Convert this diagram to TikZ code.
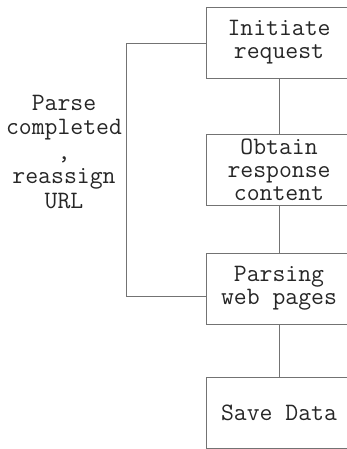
\documentclass[tikz,border=0pt]{standalone}
\begin{document}
\begin{tikzpicture}[x=1pt,y=1pt,
  box/.style={draw=black!55, line width=0.9pt, minimum width=146pt, minimum height=71pt, inner sep=0pt, align=center, font=\ttfamily\fontsize{25}{23}\selectfont, text=black!85},
  link/.style={draw=black!55, line width=0.9pt},
  lbl/.style={align=center, font=\ttfamily\fontsize{25}{24.5}\selectfont, text=black!85}]
\useasboundingbox (0,0) rectangle (346,-449);
\node[box] (b1) at (279,-42.5) {Initiate\\request};
\node[box] (b2) at (279,-170) {Obtain\\response\\content};
\node[box] (b3) at (279,-288.5) {Parsing\\web pages};
\node[box] (b4) at (279,-412.5) {Save Data};
\node[lbl] (t) at (64,-152) {Parse\\completed\\,\\reassign\\URL};
\coordinate (c1) at (126,-43);
\coordinate (c2) at (126,-296);
\draw[link] (b1) -- (b2);
\draw[link] (b2) -- (b3);
\draw[link] (b3) -- (b4);
\draw[link] (b1.west |- c1) -- (c1) -- (c2) -- (b3.west |- c2);
\end{tikzpicture}
\end{document}
